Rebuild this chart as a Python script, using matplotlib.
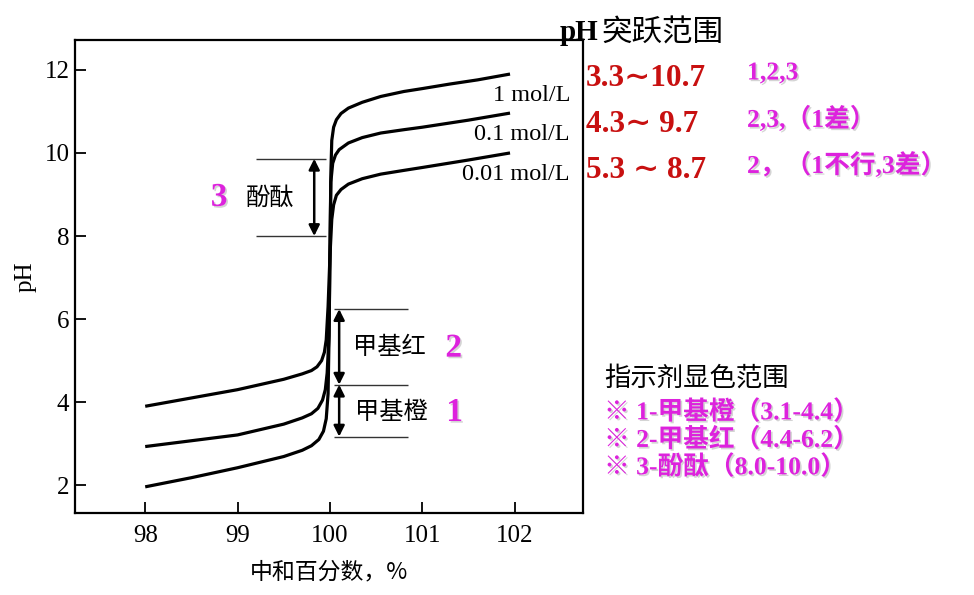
import matplotlib
matplotlib.use("Agg")
import matplotlib.pyplot as plt
import matplotlib.patheffects as pe

# titration curves (% neutralised, pH)
x_1M = [98.0, 98.5, 99.0, 99.5, 99.7, 99.8, 99.88, 99.93, 99.96, 99.98, 99.99, 100.0,
        100.01, 100.02, 100.04, 100.07, 100.12, 100.2, 100.35, 100.55, 100.8, 101.0,
        101.3, 101.6, 101.95]
ph_1M = [1.96, 2.18, 2.42, 2.69, 2.84, 2.95, 3.1, 3.3, 3.6, 4.2, 5.5, 7.5,
         9.5, 10.3, 10.62, 10.8, 10.95, 11.08, 11.22, 11.36, 11.48, 11.55,
         11.66, 11.76, 11.9]
x_01M = [98.0, 98.5, 99.0, 99.5, 99.7, 99.8, 99.87, 99.92, 99.95, 99.97, 99.99, 100.0,
         100.01, 100.03, 100.06, 100.1, 100.2, 100.35, 100.55, 100.8, 101.0, 101.5, 101.95]
ph_01M = [2.93, 3.07, 3.21, 3.47, 3.62, 3.72, 3.85, 4.05, 4.3, 4.7, 5.6, 7.5,
          9.3, 9.75, 9.95, 10.08, 10.24, 10.37, 10.48, 10.56, 10.62, 10.79, 10.96]
x_001M = [98.0, 98.5, 99.0, 99.5, 99.7, 99.8, 99.86, 99.91, 99.94, 99.96, 99.98, 100.0,
          100.02, 100.04, 100.07, 100.12, 100.2, 100.35, 100.55, 100.8, 101.0, 101.5, 101.95]
ph_001M = [3.9, 4.1, 4.3, 4.55, 4.68, 4.76, 4.85, 5.0, 5.2, 5.5, 6.3, 7.5,
           8.4, 8.75, 8.98, 9.12, 9.25, 9.38, 9.49, 9.58, 9.65, 9.83, 10.0]

curve_labels = ["1 mol/L", "0.1 mol/L", "0.01 mol/L"]
curve_label_ph = [11.39, 10.44, 9.49]

# indicator ranges as drawn
phenol = [8.0, 9.86]
methyl_red = [4.42, 6.24]
methyl_orange = [3.17, 4.42]

xticks = [98, 99, 100, 101, 102]
yticks = [2, 4, 6, 8, 10, 12]

jump_rows = ["3.3∼10.7", "4.3∼ 9.7", "5.3 ∼ 8.7"]
jump_notes = ["1,2,3", "2,3,（1差）", "2，（1不行,3差）"]
ind_rows = ["※ 1-甲基橙（3.1-4.4）", "※ 2-甲基红（4.4-6.2）", "※ 3-酚酞（8.0-10.0）"]

RED = "#c81010"
MAG = "#dd22dd"
SERIF = ["Liberation Serif", "Noto Sans CJK SC"]
RED_FONT = ["Liberation Serif", "DejaVu Serif"]
CJK = ["Noto Sans CJK SC", "DejaVu Sans"]
W, H = 974, 595
shadow = [pe.withSimplePatchShadow(offset=(1.2, -1.2), shadow_rgbFace="#aaaaaa", alpha=0.5)]

fig = plt.figure(figsize=(W / 100, H / 100), dpi=100)
ax = fig.add_axes([75 / W, 1 - 513 / H, (583 - 75) / W, (513 - 40) / H])

for xs, ys in [(x_1M, ph_1M), (x_01M, ph_01M), (x_001M, ph_001M)]:
    ax.plot(xs, ys, color="black", lw=2.3, solid_capstyle="butt")

ax.set_xlim(97.24, 102.74)
ax.set_ylim(1.33, 12.72)
ax.set_xticks(xticks)
ax.set_yticks(yticks)
ax.tick_params(direction="in", length=8, width=1.3, labelsize=18, top=False, right=False)
ax.tick_params(axis="x", pad=9)
ax.tick_params(axis="y", pad=4)
for lab in ax.get_xticklabels() + ax.get_yticklabels():
    lab.set_family("Liberation Serif")
for sp in ax.spines.values():
    sp.set_linewidth(1.6)

ax.set_ylabel("pH", family="Liberation Serif", fontsize=18, labelpad=6)
ax.set_xlabel("中和百分数，%", family=CJK, fontsize=16.5, labelpad=9)

for lab, y in zip(curve_labels, curve_label_ph):
    ax.text(102.6, y, lab, ha="right", va="center", family="Liberation Serif", fontsize=17.5)

# indicator guide lines and arrows
ax.hlines(phenol, 99.2, 99.96, color="#333333", lw=1)
ax.hlines(methyl_red + methyl_orange[:1], 100.04, 100.85, color="#333333", lw=1)
arrow = dict(arrowstyle="<|-|>", lw=1.8, color="black", mutation_scale=16, shrinkA=0, shrinkB=0)
ax.annotate("", xy=(99.83, phenol[1]), xytext=(99.83, phenol[0]), arrowprops=arrow)
ax.annotate("", xy=(100.1, methyl_red[1]), xytext=(100.1, methyl_red[0]), arrowprops=arrow)
ax.annotate("", xy=(100.1, methyl_orange[1]), xytext=(100.1, methyl_orange[0]), arrowprops=arrow)

ax.text(98.8, 8.93, "3", color=MAG, fontsize=24, fontweight="bold", family="Liberation Serif",
        ha="center", va="center", path_effects=shadow)
ax.text(99.35, 8.93, "酚酞", fontsize=17.5, family=CJK, ha="center", va="center")
ax.text(100.64, 5.33, "甲基红", fontsize=17.5, family=CJK, ha="center", va="center")
ax.text(101.34, 5.3, "2", color=MAG, fontsize=24, fontweight="bold", family="Liberation Serif",
        ha="center", va="center", path_effects=shadow)
ax.text(100.67, 3.77, "甲基橙", fontsize=17.5, family=CJK, ha="center", va="center")
ax.text(101.35, 3.75, "1", color=MAG, fontsize=24, fontweight="bold", family="Liberation Serif",
        ha="center", va="center", path_effects=shadow)

# right-hand notes (pixel positions)
def ftext(px, py, s, **kw):
    fig.text(px / W, 1 - py / H, s, va="center", **kw)

ftext(560, 33, "pH", family="Liberation Serif", fontweight="bold", fontsize=21)
ftext(601, 33, "突跃范围", family=CJK, fontsize=22)
for i, (r, n) in enumerate(zip(jump_rows, jump_notes)):
    y = 78 + i * 46
    ftext(586, y, r, family=RED_FONT, fontweight="bold", fontsize=22.5, color=RED)
    ftext(747, y - 5, n, family=SERIF, fontweight="bold", fontsize=18.5, color=MAG, path_effects=shadow)

ftext(604, 378, "指示剂显色范围", family=CJK, fontsize=19, fontweight="medium")
for i, r in enumerate(ind_rows):
    ftext(604, 412 + i * 27.5, r, family=SERIF, fontweight="bold", fontsize=18.5, color=MAG,
          path_effects=shadow)

fig.savefig("out.png", dpi=100)
